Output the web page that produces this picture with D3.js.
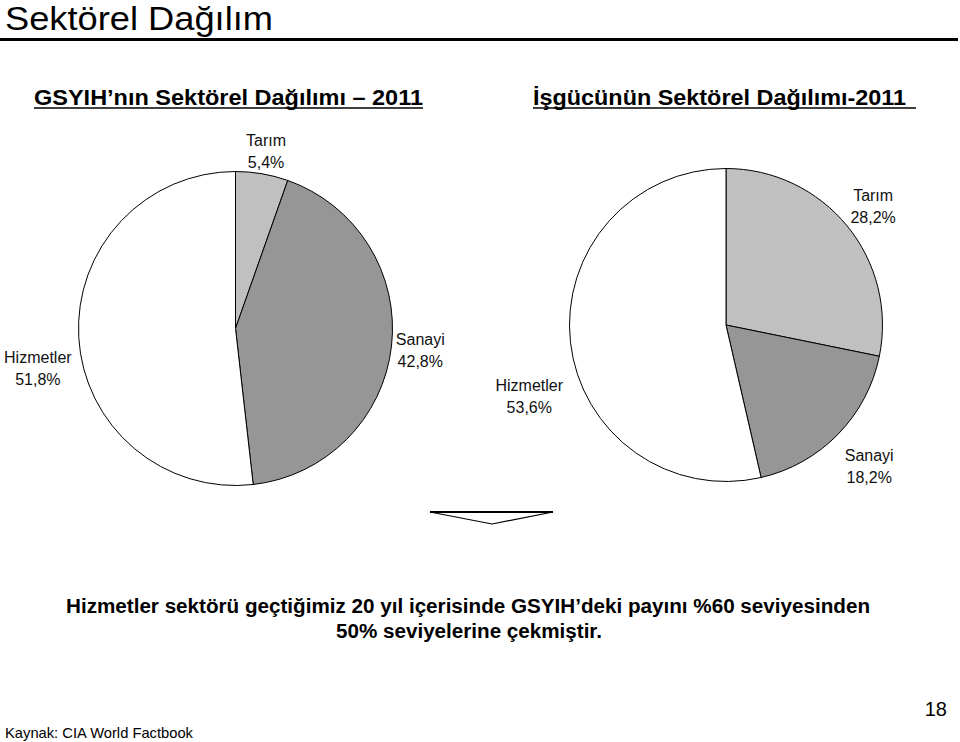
<!DOCTYPE html>
<html>
<head>
<meta charset="utf-8">
<title>Sektörel Dağılım</title>
<style type="text/css">
	body { margin: 0; background: #fff; }
	svg { display: block; font-family: "Liberation Sans", Arial, sans-serif; }
	.slice { stroke: #000; stroke-width: 1; }
	.lbl { font-size: 16px; fill: #111; text-anchor: middle; }
</style>
<script src="https://cdn.jsdelivr.net/npm/d3@7/dist/d3.min.js"></script>
</head>
<body>
<script type="text/javascript">
// sectors, in drawing order (clockwise from 12 o'clock)
var sectors = ['Tarım', 'Sanayi', 'Hizmetler'];
var gdpShare = [5.4, 42.8, 51.8];     // GSYIH 2011
var laborShare = [28.2, 18.2, 53.6];  // İşgücü 2011
var sliceColors = ['#c0c0c0', '#969696', '#ffffff'];

var W = 960, H = 742;
var svg = d3.select('body').append('svg').attr('width', W).attr('height', H);

// fit text to the widths measured on the slide
function fitted(sel, w) {
	return sel.attr('textLength', w).attr('lengthAdjust', 'spacingAndGlyphs');
}

// header
fitted(svg.append('text').attr('x', 5).attr('y', 30)
	.style('font-size', '34px').text('Sektörel Dağılım'), 268);
svg.append('line').attr('x1', 0).attr('x2', 958).attr('y1', 39.5).attr('y2', 39.5)
	.attr('stroke', '#000').attr('stroke-width', 3);

function subtitle(x, y, txt, tw, uw) {
	fitted(svg.append('text').attr('x', x).attr('y', y)
		.style('font-size', '21.5px').style('font-weight', 'bold')
		.text(txt), tw);
	svg.append('line').attr('x1', x).attr('x2', x + uw).attr('y1', y + 3).attr('y2', y + 3)
		.attr('stroke', '#000').attr('stroke-width', 1.6);
}
subtitle(34, 105, 'GSYIH\u2019nın Sektörel Dağılımı \u2013 2011', 389, 389);
subtitle(533, 105, 'İşgücünün Sektörel Dağılımı-2011', 373, 383);

var pie = d3.pie().sort(null).value(function(d){ return d; });

// label radius / vertical shift per slice (placement only)
function drawPie(values, cx, cy, r, labelR, labelDy) {
	var g = svg.append('g').attr('transform', 'translate(' + cx + ',' + cy + ')');
	var arc = d3.arc().innerRadius(0).outerRadius(r);
	var arcs = pie(values);
	g.selectAll('path').data(arcs).enter().append('path')
		.attr('class', 'slice')
		.attr('d', arc)
		.attr('fill', function(d, i){ return sliceColors[i]; });
	arcs.forEach(function(d, i){
		var a = (d.startAngle + d.endAngle) / 2;
		var x = Math.sin(a) * labelR[i];
		var y = -Math.cos(a) * labelR[i] + labelDy[i];
		var t = g.append('text').attr('class', 'lbl');
		t.append('tspan').attr('x', x).attr('y', y - 4).text(sectors[i]);
		t.append('tspan').attr('x', x).attr('y', y + 18).text(d3.format('.1f')(values[i]).replace('.', ',') + '%');
	});
}

drawPie(gdpShare, 235.5, 328.5, 157, [181, 186, 198], [0, 0, 27]);
drawPie(laborShare, 726, 325, 156.5, [190, 200, 198], [0, 0, 48]);

// arrow
svg.append('polygon')
	.attr('points', '430,512 553,512 492,524')
	.attr('fill', '#fff').attr('stroke', '#000').attr('stroke-width', 1.2);
svg.append('line').attr('x1', 430).attr('x2', 553).attr('y1', 512).attr('y2', 512)
	.attr('stroke', '#000').attr('stroke-width', 2);

// conclusion
var note = svg.append('text').attr('text-anchor', 'middle')
	.style('font-size', '20px').style('font-weight', 'bold');
fitted(note.append('tspan').attr('x', 468).attr('y', 613)
	.text('Hizmetler sektörü geçtiğimiz 20 yıl içerisinde GSYIH\u2019deki payını %60 seviyesinden'), 804);
fitted(note.append('tspan').attr('x', 469).attr('y', 638)
	.text('50% seviyelerine çekmiştir.'), 266);

fitted(svg.append('text').attr('x', 5).attr('y', 738).style('font-size', '14.5px')
	.text('Kaynak: CIA World Factbook'), 188);
svg.append('text').attr('x', 947).attr('y', 716).attr('text-anchor', 'end')
	.style('font-size', '20px').text('18');
</script>
</body>
</html>
